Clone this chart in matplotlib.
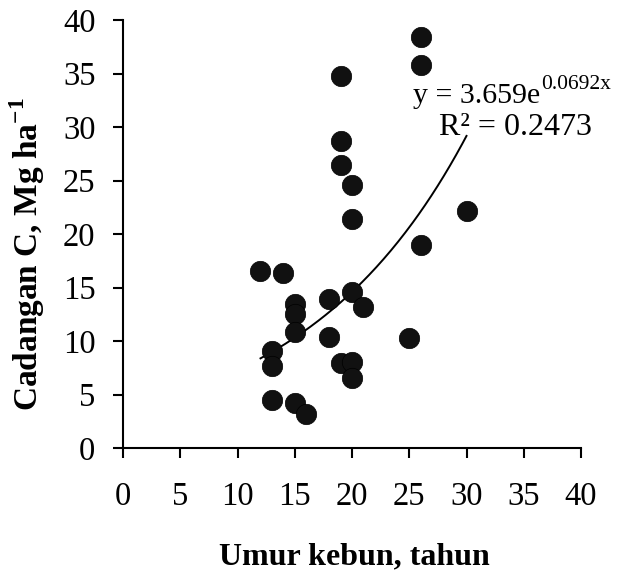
import numpy as np
import matplotlib
matplotlib.use("Agg")
import matplotlib.pyplot as plt

plt.rcParams['font.family'] = ['Liberation Serif', 'DejaVu Serif']
plt.rcParams['mathtext.fontset'] = 'custom'
plt.rcParams['mathtext.rm'] = 'Liberation Serif'
plt.rcParams['mathtext.bf'] = 'Liberation Serif:bold'

umur = [19, 26, 26, 19, 19, 20, 20, 30, 26,
        12, 14, 15, 15, 18, 20, 21, 15, 18, 13, 13, 25, 19, 20, 20, 13, 15, 16]
cadangan = [34.8, 35.8, 38.4, 28.7, 26.5, 24.6, 21.4, 22.2, 19.0,
            16.6, 16.4, 13.5, 12.5, 13.9, 14.6, 13.2, 10.9, 10.4, 9.1, 7.7, 10.3, 8.0, 8.1, 6.6, 4.5, 4.2, 3.2]
fit_a = 3.659
fit_b = 0.0692
fit_range = [12, 30]
xticks = [0, 5, 10, 15, 20, 25, 30, 35, 40]
yticks = [0, 5, 10, 15, 20, 25, 30, 35, 40]

fig = plt.figure(figsize=(6.22, 5.71), dpi=100)
ax = fig.add_axes([0.198, 0.215, 0.736, 0.75])

ax.scatter(umur, cadangan, s=215, color='#111111', edgecolors='black', linewidths=0.5, zorder=3)
xf = np.linspace(fit_range[0], fit_range[1], 200)
ax.plot(xf, fit_a * np.exp(fit_b * xf), color='black', lw=1.4, zorder=2)

ax.set_xlim(0, 40)
ax.set_ylim(0, 40)
ax.set_xticks(xticks)
ax.set_yticks(yticks)
for s in ['top', 'right']:
    ax.spines[s].set_visible(False)
for s in ['left', 'bottom']:
    ax.spines[s].set_linewidth(1.5)
ax.tick_params(direction='out', length=7, width=1.5, labelsize=23.5, pad=17)
ax.tick_params(axis='y', pad=13)

ax.set_xlabel('Umur kebun, tahun', fontsize=23, fontweight='bold')
ax.xaxis.set_label_coords(0.504, -0.254)
ax.xaxis.label.set_verticalalignment('center')
ax.set_ylabel(r'Cadangan C, Mg ha$^{\mathbf{-1}}$', fontsize=24, fontweight='bold')
ax.yaxis.set_label_coords(-0.21, 0.454)
ax.yaxis.label.set_verticalalignment('center')

t1 = ax.text(0.633, 0.806, 'y = 3.659e', transform=ax.transAxes, fontsize=21.5, ha='left', va='baseline')
ax.annotate('0.0692x', xy=(1, 0), xycoords=t1, xytext=(0.5, 11), textcoords='offset points',
            fontsize=15.5, ha='left', va='bottom')
ax.text(0.690, 0.731, 'R² = 0.2473', transform=ax.transAxes, fontsize=23, ha='left', va='baseline')

fig.savefig('out.png', dpi=100)
